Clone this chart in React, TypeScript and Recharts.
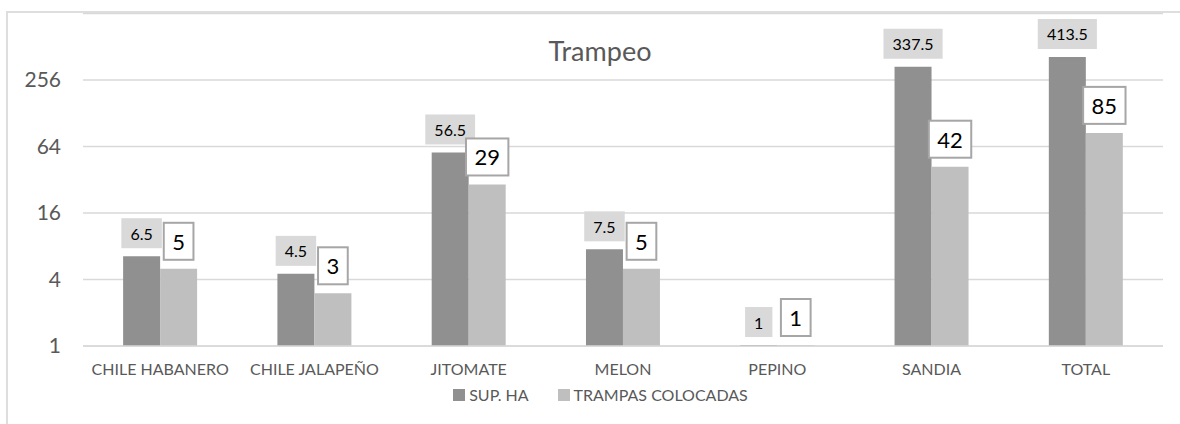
import React from 'react';
import {
  BarChart,
  Bar,
  XAxis,
  YAxis,
  CartesianGrid,
  Legend,
  LabelList,
} from 'recharts';

const categories = [
  'CHILE HABANERO',
  'CHILE JALAPEÑO',
  'JITOMATE',
  'MELON',
  'PEPINO',
  'SANDIA',
  'TOTAL',
];
const supHa = [6.5, 4.5, 56.5, 7.5, 1, 337.5, 413.5];
const trampas = [5, 3, 29, 5, 1, 42, 85];
const yTicks = [1, 4, 16, 64, 256];

const DARK = '#909090';
const LIGHT = '#bfbfbf';
const FONT = 'Lato, "Open Sans", sans-serif';

const chartData = categories.map((name, i) => ({
  name,
  sup: supHa[i],
  trampas: trampas[i],
}));

// rough text width so the label boxes hug their numbers
function textWidth(s: string, digit: number) {
  let w = 0;
  for (const ch of s) w += ch === '.' ? digit * 0.42 : digit;
  return w;
}

function DarkLabel(props: any) {
  const { x, y, width, value } = props;
  const label = String(value);
  const w = textWidth(label, 9.3) + 18;
  const h = 30;
  const cx = x + width / 2;
  const bottom = y - 8;
  return (
    <g>
      <rect x={cx - w / 2} y={bottom - h} width={w} height={h} fill="#d9d9d9" />
      <text
        x={cx}
        y={bottom - h / 2}
        textAnchor="middle"
        dominantBaseline="central"
        fontSize={16}
        fontFamily={FONT}
        fill="#000"
      >
        {label}
      </text>
    </g>
  );
}

function LightLabel(props: any) {
  const { x, y, width, value } = props;
  const label = String(value);
  const w = textWidth(label, 12.7) + 17;
  const h = 37;
  const cx = x + width / 2;
  const bottom = y - 9;
  return (
    <g>
      <rect
        x={cx - w / 2}
        y={bottom - h}
        width={w}
        height={h}
        fill="#fff"
        stroke="#a6a6a6"
        strokeWidth={2}
      />
      <text
        x={cx}
        y={bottom - h / 2}
        textAnchor="middle"
        dominantBaseline="central"
        fontSize={22}
        fontFamily={FONT}
        fill="#000"
      >
        {label}
      </text>
    </g>
  );
}

function LegendContent() {
  const items = [
    { label: 'SUP. HA', color: DARK },
    { label: 'TRAMPAS COLOCADAS', color: LIGHT },
  ];
  return (
    <div
      style={{
        display: 'flex',
        justifyContent: 'center',
        gap: 29,
        fontFamily: FONT,
        fontSize: 16,
        color: '#595959',
        lineHeight: '18px',
        paddingLeft: 38,
      }}
    >
      {items.map((it) => (
        <div key={it.label} style={{ display: 'flex', alignItems: 'center', gap: 4 }}>
          <span style={{ width: 12, height: 12, background: it.color, display: 'inline-block' }} />
          <span>{it.label}</span>
        </div>
      ))}
    </div>
  );
}

export default function App() {
  return (
    <div style={{ position: 'absolute', left: 0, top: 0, width: 1180, height: 424, background: '#fff', overflow: 'hidden' }}>
      <style>{'html, body { overflow: hidden; }'}</style>
      {/* chart frame: only the top and left edges fall inside the picture */}
      <div style={{ position: 'absolute', left: 6, top: 11, width: 1174, height: 2, background: '#dedede' }} />
      <div style={{ position: 'absolute', left: 6, top: 11, width: 2, height: 413, background: '#dedede' }} />
      <div
        style={{
          position: 'absolute',
          left: 0,
          width: 1200,
          top: 34,
          textAlign: 'center',
          fontFamily: FONT,
          fontSize: 27,
          color: '#595959',
          lineHeight: '34px',
        }}
      >
        Trampeo
      </div>
      <BarChart
        width={1180}
        height={424}
        data={chartData}
        margin={{ top: 13.5, right: 17, left: 0, bottom: 0 }}
        barCategoryGap="26%"
        barGap={0}
        style={{ position: 'absolute', left: 0, top: 0 }}
      >
        <CartesianGrid vertical={false} stroke="#d9d9d9" strokeWidth={1.5} />
        <XAxis
          dataKey="name"
          height={40}
          tickLine={false}
          tickMargin={12}
          axisLine={{ stroke: '#d9d9d9', strokeWidth: 1.5 }}
          tick={{ fontSize: 16, fill: '#595959', fontFamily: FONT }}
          interval={0}
        />
        <YAxis
          type="number"
          scale="log"
          domain={[1, 1024]}
          ticks={yTicks}
          allowDataOverflow
          width={83}
          axisLine={false}
          tickLine={false}
          tickMargin={16}
          tick={{ fontSize: 21, fill: '#595959', fontFamily: FONT }}
        />
        <Legend verticalAlign="bottom" height={38} content={<LegendContent />} />
        <Bar dataKey="sup" name="SUP. HA" fill={DARK} minPointSize={1} isAnimationActive={false}>
          <LabelList dataKey="sup" content={<DarkLabel />} />
        </Bar>
        <Bar dataKey="trampas" name="TRAMPAS COLOCADAS" fill={LIGHT} minPointSize={1} isAnimationActive={false}>
          <LabelList dataKey="trampas" content={<LightLabel />} />
        </Bar>
      </BarChart>
    </div>
  );
}
